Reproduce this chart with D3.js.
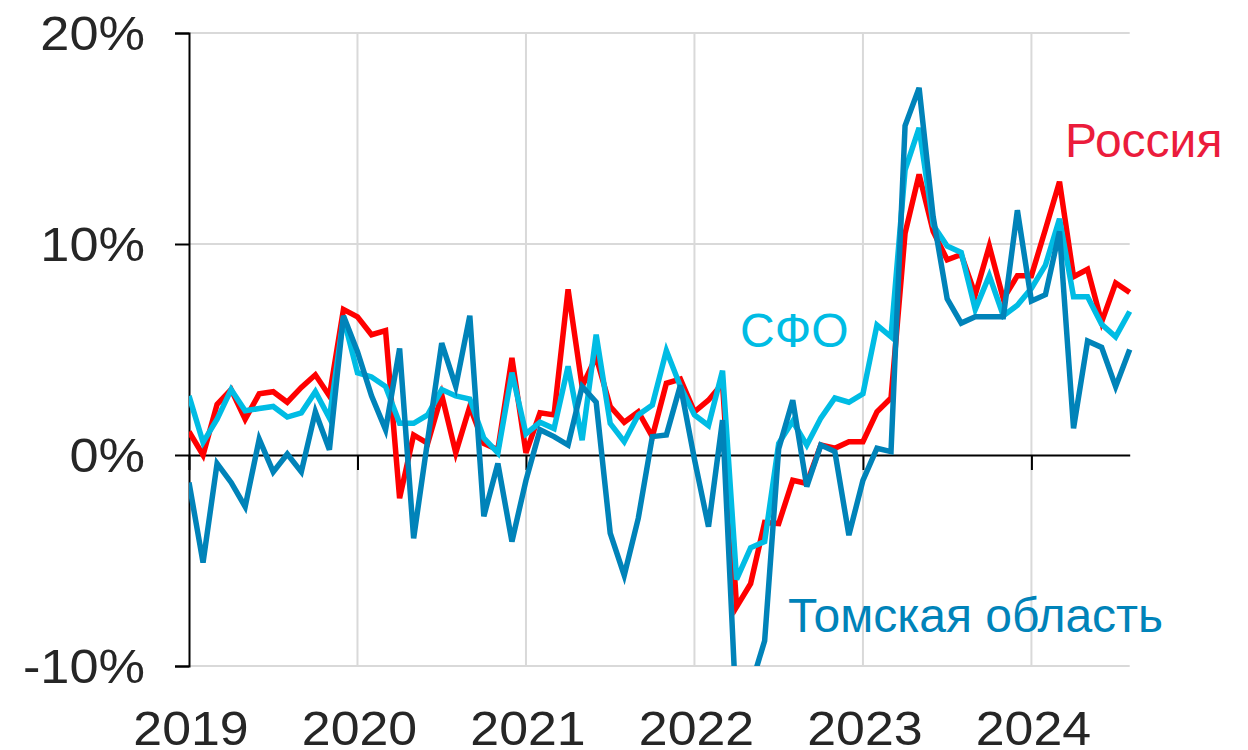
<!DOCTYPE html>
<html>
<head>
<meta charset="utf-8">
<script src="https://cdn.jsdelivr.net/npm/d3@7"></script>
<style>
  html, body { margin: 0; padding: 0; background: #fff; }
  svg { display: block; font-family: "Liberation Sans", Arial, sans-serif; }
</style>
</head>
<body>
<svg id="chart" width="1248" height="750"></svg>
<script>
// monthly values, Jan 2019 .. Aug 2024, % y/y
const russia = [1.1, 0.0, 2.4, 3.1, 1.7, 2.9, 3.0, 2.5, 3.2, 3.8, 2.8, 6.9,
  6.55, 5.7, 5.9, -2.05, 0.95, 0.55, 2.85, 0.1, 2.3, 0.55, 0.25, 4.6,
  0.1, 2.0, 1.9, 7.85, 3.25, 4.65, 2.3, 1.55, 2.05, 0.87, 3.4, 3.6,
  2.05, 2.6, 3.4, -7.2, -6.1, -3.2, -3.25, -1.2, -1.35, 0.47, 0.32, 0.63,
  0.63, 2.05, 2.7, 10.5, 13.3, 10.6, 9.25, 9.5, 7.6, 9.9, 7.4, 8.5,
  8.5, 10.7, 12.95, 8.45, 8.8, 6.3, 8.15, 7.7];

const sfo = [2.8, 0.6, 1.7, 3.1, 2.1, 2.2, 2.3, 1.8, 2.0, 3.0, 1.75, 6.5,
  3.9, 3.7, 3.25, 1.5, 1.5, 1.9, 3.1, 2.8, 2.65, 0.8, 0.1, 3.9,
  1.0, 1.55, 1.25, 4.2, 0.7, 5.7, 1.5, 0.63, 1.9, 2.37, 4.95, 3.25,
  1.9, 1.4, 4.0, -5.9, -4.4, -4.1, 0.55, 1.6, 0.47, 1.75, 2.7, 2.5,
  2.9, 6.16, 5.6, 13.5, 15.5, 10.9, 9.9, 9.6, 6.9, 8.5, 6.6, 7.1,
  7.9, 9.0, 11.2, 7.5, 7.5, 6.2, 5.6, 6.8];

const tomsk = [-1.3, -5.1, -0.4, -1.3, -2.45, 0.75, -0.8, 0.05, -0.8, 2.05, 0.25, 6.6,
  4.9, 2.8, 1.2, 5.05, -3.95, 0.7, 5.3, 3.25, 6.6, -2.9, -0.4, -4.1,
  -1.2, 1.2, 0.87, 0.47, 3.25, 2.5, -3.7, -5.7, -3.0, 0.87, 0.95, 3.3,
  -0.2, -3.4, 1.65, -12.5, -11, -8.8, 0.3, 2.6, -1.5, 0.47, 0.16, -3.8,
  -1.2, 0.32, 0.16, 15.6, 17.4, 11.3, 7.4, 6.25, 6.55, 6.55, 6.55, 11.6,
  7.3, 7.6, 10.6, 1.26, 5.4, 5.1, 3.24, 5.0];

const years = [2019, 2020, 2021, 2022, 2023, 2024];
const yTicks = [-10, 0, 10, 20];

const svg = d3.select("#chart");

// scales
const x = d3.scaleLinear().domain([0, russia.length - 1]).range([189, 1129.7]);
const y = d3.scaleLinear().domain([-10, 20]).range([666, 33]);
const yearX = yr => x((yr - 2019) * 12);

const textColor = "#262626";
const gridColor = "#d9d9d9";

// horizontal grid
svg.append("g")
  .selectAll("line")
  .data(yTicks.filter(t => t !== 0))
  .enter()
  .append("line")
  .attr("x1", x(0))
  .attr("x2", x.range()[1])
  .attr("y1", d => y(d))
  .attr("y2", d => y(d))
  .attr("stroke", gridColor)
  .attr("stroke-width", 2);

// vertical grid
svg.append("g")
  .selectAll("line")
  .data(years.slice(1))
  .enter()
  .append("line")
  .attr("x1", d => yearX(d))
  .attr("x2", d => yearX(d))
  .attr("y1", y(20))
  .attr("y2", y(-10))
  .attr("stroke", gridColor)
  .attr("stroke-width", 2);

// y axis (labels drawn separately, slightly wide font in the original)
const yAxis = svg.append("g")
  .attr("transform", `translate(${x(0)},0)`)
  .call(d3.axisLeft(y).tickValues(yTicks).tickSize(14).tickFormat(""));
yAxis.select(".domain").attr("stroke", "#000").attr("stroke-width", 2);
yAxis.selectAll(".tick line").attr("stroke", "#000").attr("stroke-width", 2);

svg.append("g")
  .selectAll("text")
  .data(yTicks)
  .enter()
  .append("text")
  .attr("transform", d => `translate(145,${y(d)}) scale(1.09,1)`)
  .attr("dy", "0.36em")
  .attr("text-anchor", "end")
  .attr("fill", textColor)
  .style("font-size", "48px")
  .text(d => d + "%");

// x axis on zero line
const xAxis = svg.append("g")
  .attr("transform", `translate(0,${y(0)})`)
  .call(d3.axisBottom(x).tickValues(years.map(yr => (yr - 2019) * 12))
    .tickSize(15).tickSizeOuter(0).tickFormat(""));
xAxis.select(".domain").attr("stroke", "#000").attr("stroke-width", 2);
xAxis.selectAll(".tick line").attr("stroke", "#000").attr("stroke-width", 2);

// year labels at bottom
svg.append("g")
  .selectAll("text")
  .data(years)
  .enter()
  .append("text")
  .attr("transform", d => `translate(${yearX(d) + 2},745) scale(1.08,1)`)
  .attr("text-anchor", "middle")
  .attr("fill", textColor)
  .style("font-size", "48px")
  .text(d => d);

// clip
svg.append("clipPath").attr("id", "plot-clip")
  .append("rect")
  .attr("x", x(0))
  .attr("y", y(20) - 5)
  .attr("width", x.range()[1] - x(0) + 10)
  .attr("height", y(-10) - y(20) + 5);

const line = d3.line()
  .x((d, i) => x(i))
  .y(d => y(d));

const series = [
  { name: "Россия", values: russia, color: "#ff0000" },
  { name: "СФО", values: sfo, color: "#00bce4" },
  { name: "Томская область", values: tomsk, color: "#0083b9" }
];

svg.append("g")
  .attr("clip-path", "url(#plot-clip)")
  .selectAll("path")
  .data(series)
  .enter()
  .append("path")
  .attr("d", d => line(d.values))
  .attr("fill", "none")
  .attr("stroke", d => d.color)
  .attr("stroke-width", 5.5)
  .attr("stroke-linejoin", "miter");

// series labels
const labels = [
  { text: "Россия", x: 1065, y: 157, color: "#eb1c3c" },
  { text: "СФО", x: 740, y: 347, color: "#00bce4" },
  { text: "Томская область", x: 788, y: 632, color: "#0083b9" }
];

svg.append("g")
  .selectAll("text")
  .data(labels)
  .enter()
  .append("text")
  .attr("x", d => d.x)
  .attr("y", d => d.y)
  .attr("fill", d => d.color)
  .style("font-size", "48px")
  .text(d => d.text);
</script>
</body>
</html>
